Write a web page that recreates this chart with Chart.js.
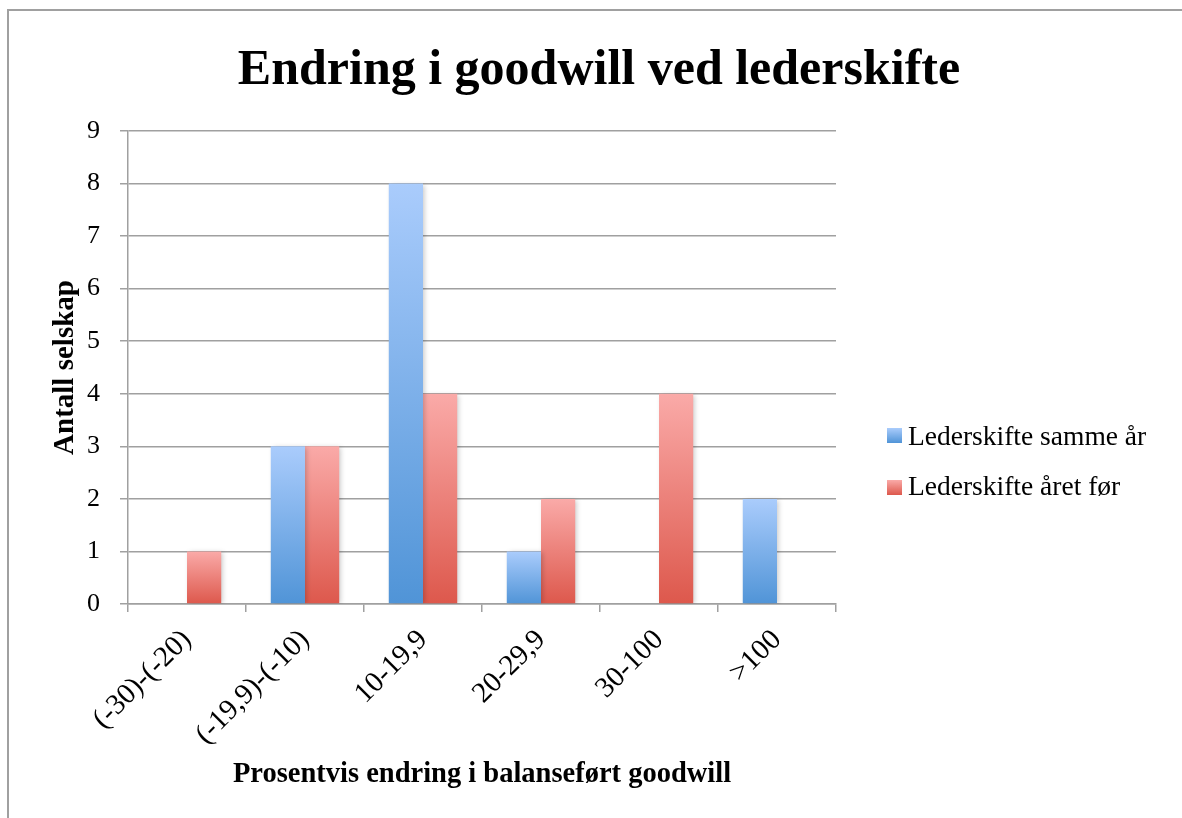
<!DOCTYPE html>
<html>
<head>
<meta charset="utf-8">
<script src="https://cdn.jsdelivr.net/npm/chart.js@4.4.1/dist/chart.umd.min.js"></script>
<style>
  html, body { margin: 0; padding: 0; background: #ffffff; }
  #frame { position: absolute; left: 7px; top: 9px; width: 1300px; height: 900px;
           border-left: 2px solid #a0a0a0; border-top: 2px solid #a0a0a0; }
  #wrap { position: absolute; left: 0; top: 0; width: 1182px; height: 818px; }
  .leg { position: absolute; font-family: "Liberation Serif", serif; font-size: 27.5px;
         line-height: 27px; color: #000; white-space: nowrap; }
  .sw { position: absolute; width: 15px; height: 15px; }
</style>
</head>
<body>
<div id="frame"></div>
<div id="wrap"><canvas id="c"></canvas></div>
<div class="sw" style="left:887px;top:428px;background:linear-gradient(#aaccfc,#5094d7);"></div>
<div class="leg" id="l1" style="left:908px;top:422px;"></div>
<div class="sw" style="left:887px;top:480px;background:linear-gradient(#faaaa8,#dd584c);"></div>
<div class="leg" id="l2" style="left:908px;top:472px;"></div>
<script>
const title = "Endring i goodwill ved lederskifte";
const categories = ["(-30)-(-20)", "(-19,9)-(-10)", "10-19,9", "20-29,9", "30-100", ">100"];
const seriesNames = ["Lederskifte samme år", "Lederskifte året før"];
const sammeAar = [0, 3, 8, 1, 0, 2];
const aaretFoer = [1, 3, 4, 2, 4, 0];
const yTicks = [0, 1, 2, 3, 4, 5, 6, 7, 8, 9];
const yTitle = "Antall selskap";
const xTitle = "Prosentvis endring i balanseført goodwill";

document.getElementById('l1').textContent = seriesNames[0];
document.getElementById('l2').textContent = seriesNames[1];

function grad(top, bottom) {
  return function (ctx) {
    const chart = ctx.chart;
    if (!chart.chartArea || ctx.type !== 'data') return bottom;
    const ys = chart.scales.y;
    const v = ctx.raw;
    const y0 = ys.getPixelForValue(0), y1 = ys.getPixelForValue(v);
    if (!isFinite(y0) || !isFinite(y1) || Math.abs(y0 - y1) < 0.5) return bottom;
    const g = chart.ctx.createLinearGradient(0, y1, 0, y0);
    g.addColorStop(0, top);
    g.addColorStop(1, bottom);
    return g;
  };
}

const shadowPlugin = {
  id: 'barShadow',
  beforeDatasetsDraw(chart) {
    const c = chart.ctx;
    c.save();
    c.shadowColor = 'rgba(0,0,0,0.22)';
    c.shadowBlur = 5;
    c.shadowOffsetX = 2;
    c.shadowOffsetY = 1;
  },
  afterDatasetsDraw(chart) { chart.ctx.restore(); }
};

const serif = "'Liberation Serif', serif";

new Chart(document.getElementById('c'), {
  type: 'bar',
  data: {
    labels: categories,
    datasets: [
      { label: seriesNames[0], data: sammeAar, backgroundColor: grad('#aaccfc', '#5094d7'), borderWidth: 0 },
      { label: seriesNames[1], data: aaretFoer, backgroundColor: grad('#faaaa8', '#dd584c'), borderWidth: 0 }
    ]
  },
  plugins: [shadowPlugin],
  options: {
    responsive: true,
    maintainAspectRatio: false,
    animation: false,
    devicePixelRatio: 1,
    layout: { padding: { left: 16, right: 0, top: 0, bottom: 0 } },
    datasets: { bar: { categoryPercentage: 0.58, barPercentage: 1.0 } },
    plugins: {
      legend: { display: false },
      tooltip: { enabled: false },
      title: {
        display: true, text: title, color: '#000',
        font: { family: serif, size: 50, weight: 'bold' },
        padding: { top: 41, bottom: 30 }
      }
    },
    scales: {
      x: {
        grid: { display: true, drawOnChartArea: false, drawTicks: true, tickLength: 8, color: '#a0a0a0', lineWidth: 1.5, offset: true },
        border: { display: true, color: '#a0a0a0', width: 1.5 },
        ticks: { color: '#000', font: { family: serif, size: 29 }, minRotation: 45, maxRotation: 45, padding: 11, autoSkip: false },
        title: { display: true, text: xTitle, color: '#000', font: { family: serif, size: 28.5, weight: 'bold' }, padding: { top: 0, bottom: 26 } },
        afterFit(scale) { scale.height = 214; }
      },
      y: {
        min: 0, max: 9,
        afterBuildTicks(scale) { scale.ticks = yTicks.map(v => ({ value: v })); },
        grid: { color: '#a0a0a0', lineWidth: 1.5, tickLength: 8, drawTicks: true },
        border: { display: true, color: '#a0a0a0', width: 1.5 },
        ticks: { color: '#000', font: { family: serif, size: 26 }, padding: 20 },
        title: { display: true, text: yTitle, color: '#000', font: { family: serif, size: 29, weight: 'bold' }, padding: { top: 32, bottom: 0 } },
        afterFit(scale) { scale.width = 112; }
      },
      ySpace: {
        position: 'right',
        display: true,
        grid: { display: false },
        border: { display: false },
        ticks: { display: false },
        afterFit(scale) { scale.width = 346; }
      }
    }
  }
});
</script>
</body>
</html>
